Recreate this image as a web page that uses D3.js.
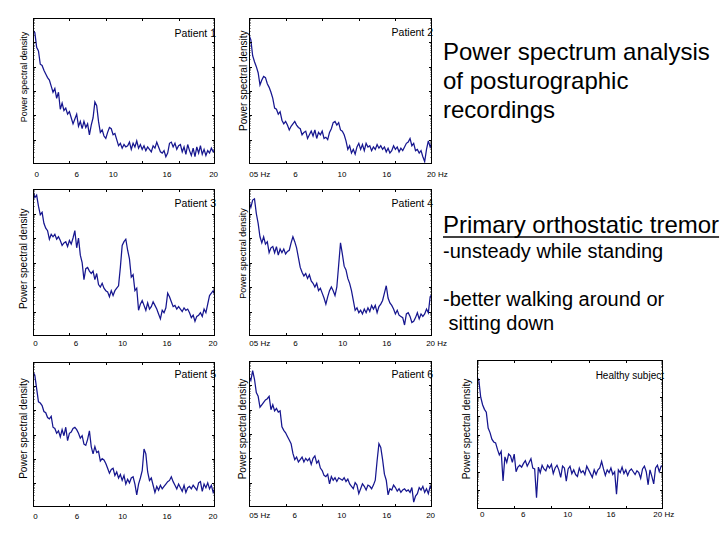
<!DOCTYPE html>
<html>
<head>
<meta charset="utf-8">
<script src="https://cdn.jsdelivr.net/npm/d3@7/dist/d3.min.js"></script>
<style>
  html, body { margin: 0; padding: 0; background: #fff; }
  svg { display: block; }
  text { font-family: "Liberation Sans", Arial, sans-serif; }
</style>
</head>
<body>
<svg id="chart" width="720" height="540"></svg>
<script>
// ---- DATA (log10 of power spectral density, sampled every 0.25 Hz from 0 to 25 Hz) ----
const freqStep = 0.25;

const patient1 = [
  5.5,5.4,4.8,4.65,4.1,4.05,3.85,3.7,3.55,3.45,
  3.2,2.95,3.1,2.7,2.95,2.25,2.5,2.2,2.3,2.05,
  2.15,1.9,1.65,1.85,2.05,1.55,1.75,1.45,1.75,1.5,
  1.65,1.2,1.6,1.9,2.55,2.4,1.75,1.3,1.4,1.15,
  1.05,1.3,1.5,1.45,1.2,1.25,1.0,0.75,0.85,0.65,
  0.8,0.7,0.75,0.9,0.6,0.85,0.7,0.95,0.65,0.8,
  0.6,0.75,0.55,0.7,0.6,0.5,0.75,0.65,0.9,0.7,
  0.5,0.45,0.55,0.3,0.45,0.85,0.9,0.7,0.85,0.6,
  0.75,0.8,0.5,0.7,0.4,0.8,0.55,0.35,0.65,0.3,
  0.7,0.45,0.75,0.4,0.6,0.35,0.55,0.45,0.65,0.5,
  0.6
];
const patient2 = [
  5.3,5.1,4.45,4.2,4.0,3.75,3.25,3.45,3.6,3.55,
  3.3,3.15,2.95,2.7,2.3,2.25,2.05,2.15,1.8,1.65,
  1.75,1.6,1.4,1.55,1.65,1.75,1.6,1.5,1.45,1.2,
  1.3,1.35,1.05,1.2,1.35,1.15,1.4,1.05,1.3,1.2,
  1.35,1.05,1.1,1.0,1.3,1.45,1.7,1.75,1.6,1.7,
  1.4,1.35,1.2,0.95,0.6,0.75,0.45,0.6,0.4,0.7,
  0.85,0.6,0.8,0.55,0.85,0.7,0.75,0.55,0.7,0.6,
  0.8,0.65,0.75,0.6,0.7,0.5,0.65,0.45,0.55,0.75,
  0.6,0.7,0.5,0.65,0.55,0.7,0.85,0.9,1.05,0.75,
  0.85,0.55,0.6,0.45,0.55,0.3,0.1,0.6,0.95,0.7,
  0.9
];
const patient3 = [
  5.95,5.65,5.75,5.3,4.95,5.05,4.6,4.4,4.3,3.95,
  4.15,4.05,4.15,3.95,4.05,3.9,3.7,3.8,3.85,3.65,
  3.9,3.75,4.0,4.3,3.6,4.0,3.3,3.0,2.3,2.75,
  2.8,2.65,2.55,2.65,2.3,2.55,2.1,2.0,2.15,1.95,
  1.85,1.8,1.6,1.85,1.65,1.85,1.95,2.05,2.8,3.7,
  3.85,3.95,3.5,3.15,2.4,2.5,1.85,1.95,1.05,1.3,
  1.45,1.25,1.05,1.35,1.1,1.2,1.4,1.25,1.1,0.9,
  0.7,1.05,0.95,1.15,1.75,1.6,1.4,1.2,1.25,1.1,
  1.2,1.1,1.0,1.15,1.05,1.1,0.95,0.75,0.85,0.6,
  0.8,0.85,0.95,0.8,1.1,0.95,1.3,1.65,1.75,1.85,
  1.65
];
const patient4 = [
  5.5,5.25,5.55,5.6,5.0,4.6,4.05,3.8,4.05,3.75,
  3.85,3.4,3.6,3.65,3.4,3.65,3.3,3.55,3.4,3.55,
  3.35,3.45,3.5,3.8,4.05,3.85,3.6,3.2,2.8,2.6,
  2.45,2.55,2.35,2.5,2.25,2.15,2.0,2.15,1.85,1.95,
  1.75,1.55,1.3,1.6,1.85,2.0,1.85,1.65,2.0,2.9,
  3.8,3.35,2.85,2.7,2.35,2.15,1.85,1.45,1.05,1.15,
  0.95,1.05,0.9,1.1,0.95,1.15,1.0,1.25,1.1,1.25,
  0.95,1.2,1.3,1.45,1.75,2.05,1.55,1.35,1.25,1.1,
  0.9,1.05,0.85,0.8,0.75,0.45,0.9,0.95,0.8,0.55,
  0.6,0.75,0.95,0.7,0.9,0.8,0.9,1.1,0.95,1.6,
  1.7
];
const patient5 = [
  5.6,5.45,4.9,4.35,4.3,4.2,3.95,3.9,3.7,3.65,
  3.75,3.3,3.25,3.05,3.15,2.9,3.2,2.95,3.3,2.75,
  3.05,3.1,3.25,3.3,3.2,3.05,2.85,2.95,2.6,2.55,
  2.8,3.15,2.5,2.2,2.5,2.25,2.3,1.9,2.0,1.95,
  1.8,1.6,1.4,1.55,1.6,1.3,1.45,1.2,1.35,1.1,
  1.3,0.95,1.15,1.0,1.2,1.25,0.95,0.5,0.95,1.2,
  1.5,2.4,2.2,1.45,1.1,1.2,0.9,0.6,0.85,0.7,
  0.9,0.75,0.85,0.95,1.05,1.1,1.25,1.05,0.9,0.75,
  0.95,0.8,0.65,0.9,0.6,0.8,0.85,0.75,0.9,0.8,
  0.7,1.0,1.05,0.65,0.95,0.8,1.0,0.75,0.9,0.6,
  0.8
];
const patient6 = [
  5.35,5.2,5.6,5.25,4.7,4.55,4.1,4.2,4.3,4.4,
  4.45,4.55,4.0,4.2,3.95,4.05,3.9,3.95,3.3,3.15,
  3.05,2.9,2.75,2.6,2.2,1.95,2.05,1.85,1.95,2.05,
  1.85,2.0,1.9,2.0,1.75,2.0,2.1,1.8,1.9,1.6,
  1.5,1.3,1.25,1.35,0.95,1.25,1.1,1.2,1.05,1.2,
  1.15,1.1,1.2,1.05,1.15,0.95,0.85,0.75,1.0,0.9,
  0.55,0.75,0.95,0.85,0.7,0.9,0.85,0.75,0.9,1.1,
  1.9,2.6,2.45,1.95,1.35,1.1,0.5,0.75,0.7,0.9,
  0.8,0.65,0.75,0.6,0.7,0.75,0.65,0.7,0.6,0.8,
  0.2,0.45,0.55,0.8,0.7,0.85,0.6,0.75,0.55,0.85,
  0.7
];
const healthy = [
  7.1,6.9,6.0,5.6,5.35,5.2,4.35,4.1,3.75,3.6,
  3.55,3.2,2.9,3.1,1.5,2.8,2.5,2.95,2.85,2.5,
  2.95,2.0,2.25,2.35,2.25,2.45,2.6,2.3,2.5,2.7,
  2.2,2.15,0.6,2.25,1.95,2.35,2.15,2.05,2.35,2.2,
  2.4,1.9,2.2,2.35,2.1,1.7,2.3,2.2,1.5,2.15,
  2.3,1.9,2.1,1.85,1.75,2.2,1.95,2.05,1.85,2.3,
  2.1,1.9,1.7,2.1,1.85,2.1,2.2,2.55,2.15,1.8,
  2.1,1.95,2.2,1.85,2.0,0.8,2.1,1.95,2.25,1.9,
  2.1,1.8,2.05,2.15,2.0,1.85,2.05,1.95,1.65,2.15,
  2.3,2.0,1.3,2.1,1.75,1.35,2.2,2.35,2.0,2.3,
  2.35
];

const names = ["Patient 1","Patient 2","Patient 3","Patient 4","Patient 5","Patient 6","Healthy subject"];
const yTitle = "Power spectral density";
const freqTicks = [5, 10, 15, 20];
const labelsLeft  = ["0","6","10","16","20"];
const labelsMidHz = ["05 Hz","6","10","16","20 Hz"];
const labelsMid   = ["05 Hz","6","10","16","20"];
const labelsRight = ["0","6","10","16","20 Hz"];
// where each tick label starts, in Hz
const labelHz1 = [0.2, 5.7, 10.4, 17.8, 24.2];
const labelHz2 = [0.05, 6.05, 12.1, 18.2, 24.3];
const labelHz3 = [0.05, 5.6, 11.7, 17.8, 24.1];
const labelHz4 = [0.05, 6.05, 12.2, 18.2, 24.2];
const labelHz5 = [0.05, 5.75, 11.7, 17.8, 24.1];
const labelHz6 = [0.05, 5.95, 12.05, 18.2, 24.2];
const labelHzH = [0.4, 5.9, 11.6, 17.4, 23.7];

const titleLines = ["Power spectrum analysis", "of posturographic", "recordings"];
const heading = "Primary orthostatic tremor";
const bullets = ["-unsteady while standing", "-better walking around or", " sitting down"];

// ---- LAYOUT ----
const series = [patient1, patient2, patient3, patient4, patient5, patient6, healthy];
const labelSets = [
  [labelsLeft, labelHz1], [labelsMidHz, labelHz2],
  [labelsLeft, labelHz3], [labelsMidHz, labelHz4],
  [labelsLeft, labelHz5], [labelsMid, labelHz6],
  [labelsRight, labelHzH]
];
const layout = [
  {x:33,  y:18,  w:182, h:146, dec:6, lblY:176.7, yl:{x:26.5, y:77,    fs:9},  nameY:36.7},
  {x:249, y:18,  w:183, h:146, dec:6, lblY:176.7, yl:{x:246.5,y:80.7,  fs:10}, nameY:36.2},
  {x:33,  y:189, w:182, h:147, dec:6, lblY:346,   yl:{x:27,   y:258.8, fs:10}, nameY:207.3},
  {x:249, y:189, w:183, h:147, dec:6, lblY:346,   yl:{x:246,  y:253.5, fs:9},  nameY:206.7},
  {x:33,  y:362, w:182, h:145, dec:6, lblY:519.3, yl:{x:27,   y:428.5, fs:10}, nameY:378.3},
  {x:249, y:361, w:183, h:146, dec:6, lblY:518.3, yl:{x:246,  y:429,   fs:10}, nameY:378.3},
  {x:477, y:360, w:186, h:149, dec:8, lblY:516.7, yl:{x:470,  y:429,   fs:10}, nameY:379.3}
];
const lineColor = "#16168f";

const svg = d3.select("#chart");
svg.append("rect").attr("width",720).attr("height",540).attr("fill","#fff");
const defs = svg.append("defs");

series.forEach((vals, i) => {
  const L = layout[i];
  const x = d3.scaleLinear().domain([0, 25]).range([L.x, L.x + L.w]);
  const y = d3.scaleLog().domain([1, Math.pow(10, L.dec)]).range([L.y + L.h, L.y]);
  const g = svg.append("g");

  defs.append("clipPath").attr("id", "clip" + i)
    .append("rect").attr("x", L.x).attr("y", L.y).attr("width", L.w).attr("height", L.h);

  const pts = vals.map((v, k) => [k * freqStep, Math.pow(10, v)]);
  const line = d3.line().x(d => x(d[0])).y(d => y(d[1]));
  g.append("path").datum(pts)
    .attr("clip-path", "url(#clip" + i + ")")
    .attr("d", line)
    .attr("fill", "none")
    .attr("stroke", lineColor)
    .attr("stroke-width", 1.25)
    .attr("stroke-linejoin", "miter");

  // frame
  g.append("rect").attr("x", L.x + 0.5).attr("y", L.y + 0.5)
    .attr("width", L.w - 1).attr("height", L.h - 1)
    .attr("fill", "none").attr("stroke", "#000").attr("stroke-width", 1);

  // frequency ticks (top and bottom, inward)
  freqTicks.forEach(f => {
    const xx = Math.round(x(f)) + 0.5;
    g.append("line").attr("x1", xx).attr("x2", xx).attr("y1", L.y).attr("y2", L.y + 3)
      .attr("stroke", "#000");
    g.append("line").attr("x1", xx).attr("x2", xx).attr("y1", L.y + L.h).attr("y2", L.y + L.h - 3)
      .attr("stroke", "#000");
  });

  // log ticks (left and right, inward)
  y.ticks().forEach(t => {
    const lg = Math.log10(t);
    if (lg <= 0.001 || lg >= L.dec - 0.001) return;
    const major = Math.abs(lg - Math.round(lg)) < 1e-6;
    const len = major ? 3 : 1.5;
    const yy = Math.round(y(t)) + 0.5;
    g.append("line").attr("x1", L.x).attr("x2", L.x + len).attr("y1", yy).attr("y2", yy)
      .attr("stroke", "#000").attr("stroke-width", major ? 1 : 0.8);
    g.append("line").attr("x1", L.x + L.w).attr("x2", L.x + L.w - len).attr("y1", yy).attr("y2", yy)
      .attr("stroke", "#000").attr("stroke-width", major ? 1 : 0.8);
  });

  // frequency labels
  const [texts, pos] = labelSets[i];
  texts.forEach((t, k) => {
    g.append("text").attr("x", x(pos[k])).attr("y", L.lblY)
      .attr("font-size", 8).attr("fill", "#000").text(t);
  });

  // panel name
  g.append("text").attr("x", L.x + L.w + 1).attr("y", L.nameY)
    .attr("text-anchor", "end").attr("font-size", i === 6 ? 10 : 10.5)
    .attr("fill", "#000").text(names[i]);

  // y axis title
  g.append("text")
    .attr("transform", `translate(${L.yl.x},${L.yl.y}) rotate(-90)`)
    .attr("text-anchor", "middle").attr("font-size", L.yl.fs)
    .attr("fill", "#000").text(yTitle);
});

// ---- side texts ----
const tx = 443;
titleLines.forEach((t, k) => {
  svg.append("text").attr("x", tx).attr("y", 60 + k * 29)
    .attr("font-size", 24).attr("fill", "#000").text(t);
});
const h = svg.append("text").attr("x", tx).attr("y", 233)
  .attr("font-size", 24).attr("fill", "#000").text(heading);
const hw = h.node().getComputedTextLength();
svg.append("line").attr("x1", tx).attr("x2", tx + hw).attr("y1", 237).attr("y2", 237)
  .attr("stroke", "#000").attr("stroke-width", 1.6);
const bulletY = [258, 306, 330];
bullets.forEach((t, k) => {
  svg.append("text").attr("x", tx).attr("y", bulletY[k])
    .attr("font-size", 20).attr("fill", "#000")
    .attr("xml:space", "preserve").style("white-space", "pre").text(t);
});
</script>
</body>
</html>
